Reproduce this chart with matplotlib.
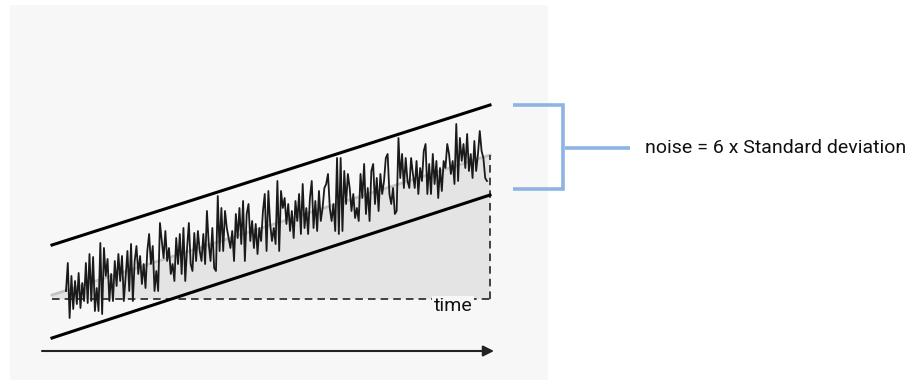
import numpy as np
import matplotlib
matplotlib.use("Agg")
import matplotlib.pyplot as plt
from matplotlib.patches import Rectangle, Polygon

# ---- data (time axis in drawing units, signal = height above the dashed baseline) ----
band_t = [52, 490]
upper_h = [54, 194]          # upper limit line (+3 sd)
lower_h = [-39, 104]         # lower limit line (-3 sd)
trend_h = [4, 144]           # smooth drift / mean line
noise_t_range = [66, 487]

noise_h = [
    # segment A
    8, 36, -19, 23, -10, 18, -5, 26, -9, 16, -2, 36, -4, 45, -2, 42, -12, 11, -12, 56,
    -15, 51, 23, 40, -2, 25, -2, 38, 13, 45, 18, 43, -2, 22, 48, 8, 55, -2, 38, 53,
    # segment B
    25, 43, 15, 35, 11, 48, 65, 35, 53, 8, 28, 8, 76, 58, 41, 68, 38, 51, 25, 35,
    18, 61, 35, 65, 25, 71, 18, 51, 76, 35, 28, 66, 38, 68,
    # segment C
    48, 38, 65, 35, 88, 55, 38, 71, 31, 28, 103, 48, 91, 48, 88, 71, 61, 51, 68, 38,
    85, 61, 91, 55, 98, 38, 85, 95, 58, 78, 51, 75, 45, 71, 58, 88, 105, 48,
    # segment D
    108, 75, 58, 71, 55, 118, 48, 108, 91, 101, 75, 95, 68, 88, 61, 98, 78, 105, 65, 115,
    71, 91, 65, 101, 118, 71, 98, 68, 108, 78, 91, 111, 115, 125, 91, 78, 95, 68, 141, 65,
    # segment E
    141, 68, 128, 95, 125, 111, 88, 105, 81, 91, 78, 125, 101, 135, 85, 111, 78, 128, 135, 95,
    121, 88, 125, 105, 118, 141, 145, 105, 95, 111, 85, 88, 161, 121, 145, 111, 141, 118, 111,
    # segment F
    141, 125, 111, 138, 105, 131, 118, 148, 155, 105, 135, 105, 145, 115, 138, 101, 131, 108, 138, 131,
    155, 145, 125, 138, 115, 175, 118, 161, 138, 155, 131, 165, 128, 145, 121, 158, 128, 145, 168, 148,
    141, 121, 118,
]

label_time = "time"
label_noise = "noise = 6 x Standard deviation"

# ---- styling ----
W, H = 924, 380
BASE = 299                      # pixel row of the dashed baseline
panel_color = "#f7f7f7"
fill_color = "#e4e4e4"
blue = "#8db4e2"
font = ["Roboto", "DejaVu Sans"]

fig = plt.figure(figsize=(W / 100, H / 100), dpi=100, facecolor="white")
ax = fig.add_axes([0, 0, 1, 1])
ax.set_xlim(0, W)
ax.set_ylim(BASE - H, BASE)
ax.axis("off")

# panel background
ax.add_patch(Rectangle((10, BASE - H), 538, H - 5, facecolor=panel_color,
                       edgecolor="none", zorder=0))

# shaded area under the drift line
ax.add_patch(Polygon([(band_t[0], 0), (band_t[0], trend_h[0]),
                      (band_t[1], trend_h[1]), (band_t[1], 0)],
                     closed=True, facecolor=fill_color, edgecolor="none", zorder=1))

# drift line
ax.plot(band_t, trend_h, color="#c4c4c4", lw=2.0, zorder=2)

# dashed baseline and right edge
ax.plot([band_t[0], band_t[1]], [0, 0], color="#333333", lw=1.3,
        dashes=(4.2, 2.8), zorder=3)
ax.plot([band_t[1], band_t[1]], [0, trend_h[1]], color="#333333", lw=1.3,
        dashes=(4.2, 2.8), zorder=3)

# noise
noise_t = np.linspace(noise_t_range[0], noise_t_range[1], len(noise_h))
ax.plot(noise_t, noise_h, color="#1a1a1a", lw=1.3, zorder=4)

# limit lines
ax.plot(band_t, upper_h, color="black", lw=2.2, zorder=5)
ax.plot(band_t, lower_h, color="black", lw=2.2, zorder=5)

# time arrow
ax.annotate("", xy=(494, -52), xytext=(42, -52),
            arrowprops=dict(arrowstyle="-|>", lw=1.5, color="#222222",
                            mutation_scale=16, shrinkA=0, shrinkB=0), zorder=5)

# time label
ax.text(453, -7, label_time, family=font, fontsize=14, ha="center", va="center",
        color="#111111", zorder=6,
        bbox=dict(facecolor=panel_color, edgecolor="none", pad=1.0))

# bracket
ax.plot([513, 563, 563, 513], [194, 194, 110, 110], color=blue, lw=2.6,
        solid_joinstyle="miter", solid_capstyle="butt", zorder=5)
ax.plot([565, 630], [151, 151], color=blue, lw=2.6, solid_capstyle="butt", zorder=5)

ax.text(645, 151, label_noise, family=font, fontsize=14, ha="left", va="center",
        color="#111111")

fig.savefig("out.png", dpi=100, facecolor="white")
